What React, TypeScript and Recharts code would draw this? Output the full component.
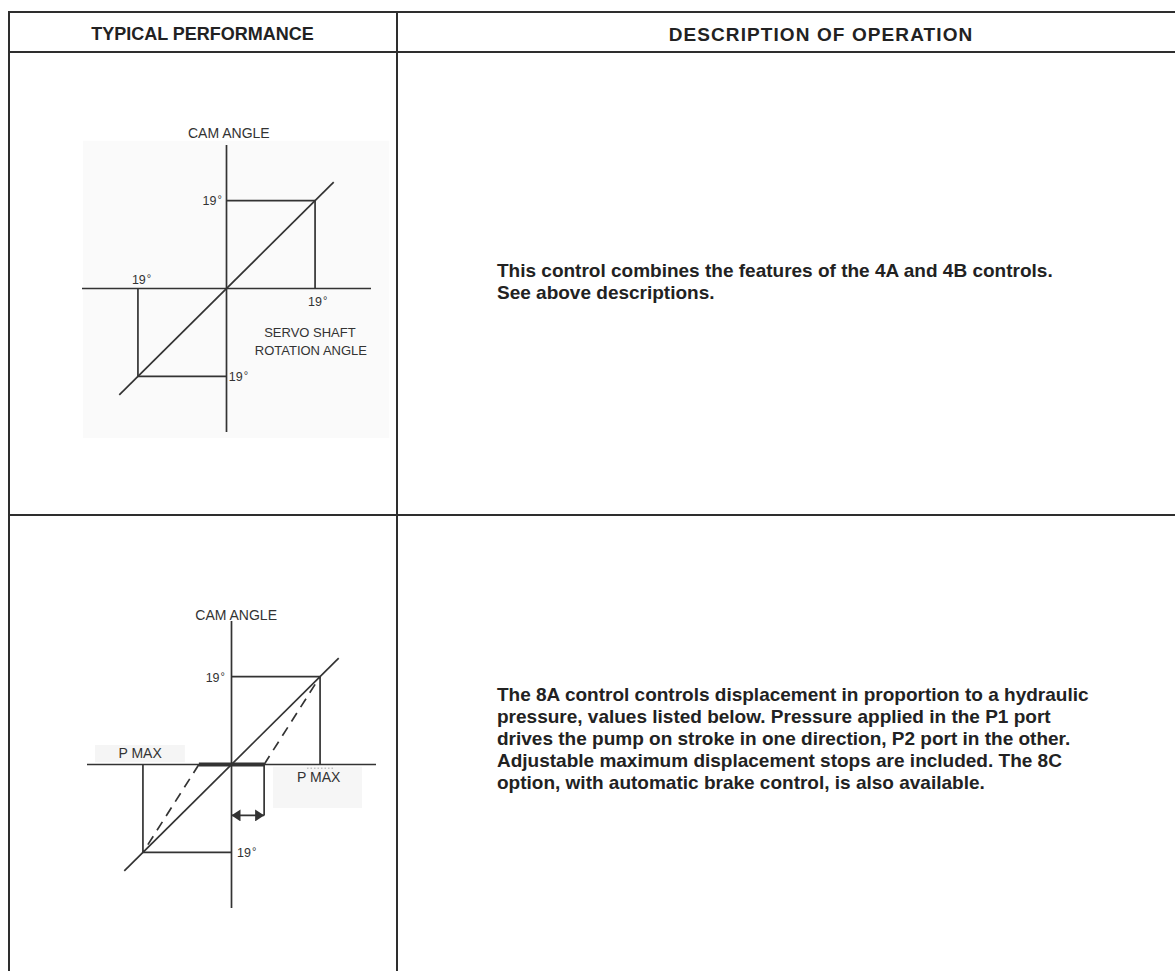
import { Line, LineChart, ReferenceArea, ReferenceDot, ReferenceLine, XAxis, YAxis } from 'recharts';

const FONT = '"Liberation Sans", Arial, Helvetica, sans-serif';
const INK = '#333';
const RULE = '#2e2e2e';

const HEADERS = ['TYPICAL PERFORMANCE', 'DESCRIPTION OF OPERATION'];

const DESCRIPTION_4AB = [
  'This control combines the features of the 4A and 4B controls.',
  'See above descriptions.',
];

const DESCRIPTION_8A = [
  'The 8A control controls displacement in proportion to a hydraulic',
  'pressure, values listed below. Pressure applied in the P1 port',
  'drives the pump on stroke in one direction, P2 port in the other.',
  'Adjustable maximum displacement stops are included. The 8C',
  'option, with automatic brake control, is also available.',
];

// Both diagrams share one scale: degrees of input vs. degrees of cam angle.
const AXIS_RANGE: [number, number] = [-31, 31];

type Pt = { x: number; y: number };

// 4A/4B combined control: servo shaft rotation drives cam angle 1:1 up to the 19° stops.
const servoResponse: Pt[] = [
  { x: -23, y: -23 },
  { x: 23, y: 23 },
];
const servoUpperStop: Pt[] = [
  { x: 0, y: 19 },
  { x: 19, y: 19 },
  { x: 19, y: 0 },
];
const servoLowerStop: Pt[] = [
  { x: -19, y: 0 },
  { x: -19, y: -19 },
  { x: 0, y: -19 },
];

// 8A hydraulic control.
const pressureResponse: Pt[] = [
  { x: -23, y: -23 },
  { x: 23, y: 23 },
];
const pressureUpperStop: Pt[] = [
  { x: 0, y: 19 },
  { x: 19, y: 19 },
  { x: 19, y: 0 },
];
const pressureLowerStop: Pt[] = [
  { x: -19, y: 0 },
  { x: -19, y: -19 },
  { x: 0, y: -19 },
];
const deadband: Pt[] = [
  { x: -7, y: 0 },
  { x: 7, y: 0 },
];
const shiftedUpper: Pt[] = [
  { x: 7, y: 0 },
  { x: 19, y: 19 },
];
const shiftedLower: Pt[] = [
  { x: -7, y: 0 },
  { x: -19, y: -19 },
];
const deadbandDrop: Pt[] = [
  { x: 7, y: 0 },
  { x: 7, y: -11 },
];
const deadbandArrow: Pt[] = [
  { x: 0, y: -11 },
  { x: 7, y: -11 },
];
const pmaxTick: Pt[] = [
  { x: 16.2, y: -0.8 },
  { x: 22.2, y: -0.8 },
];

type Anchor = 'start' | 'middle' | 'end';
type Trace = { data: Pt[]; width?: number; dash?: string; color?: string; arrows?: boolean };
type Tag = { x: number; y: number; text: string; anchor?: Anchor; size?: number; degree?: boolean };
type Shade = { x1: number; x2: number; y1: number; y2: number; fill: string };

const servoTraces: Trace[] = [
  { data: servoUpperStop },
  { data: servoLowerStop },
  { data: servoResponse },
];
const servoTags: Tag[] = [
  { x: 0.5, y: 33.6, text: 'CAM ANGLE', size: 14 },
  { x: -1.0, y: 19.1, text: '19', anchor: 'end', degree: true },
  { x: -20.3, y: 1.9, text: '19', anchor: 'start', degree: true },
  { x: 17.5, y: -2.9, text: '19', anchor: 'start', degree: true },
  { x: 17.9, y: -9.4, text: 'SERVO SHAFT' },
  { x: 18.1, y: -13.3, text: 'ROTATION ANGLE' },
  { x: 0.5, y: -19.1, text: '19', anchor: 'start', degree: true },
];
const servoShades: Shade[] = [{ x1: -30.8, x2: 34.9, y1: -32.3, y2: 31.9, fill: '#fafafa' }];

const pressureTraces: Trace[] = [
  { data: pressureUpperStop },
  { data: pressureLowerStop },
  { data: shiftedUpper, dash: '10 7' },
  { data: shiftedLower, dash: '10 7' },
  { data: deadband, width: 4 },
  { data: deadbandDrop },
  { data: deadbandArrow, arrows: true },
  { data: pressureResponse },
  { data: pmaxTick, width: 1, dash: '1.5 2', color: '#aaa' },
];
const pressureTags: Tag[] = [
  { x: 1.0, y: 32.3, text: 'CAM ANGLE', size: 14 },
  { x: -1.4, y: 18.9, text: '19', anchor: 'end', degree: true },
  { x: -19.6, y: 2.5, text: 'P MAX', size: 14 },
  { x: 18.7, y: -2.7, text: 'P MAX', size: 14 },
  { x: 1.2, y: -19.1, text: '19', anchor: 'start', degree: true },
];
const pressureShades: Shade[] = [
  { x1: -29.3, x2: -10, y1: 0.5, y2: 4.2, fill: '#f5f5f5' },
  { x1: 8.9, x2: 28, y1: -9.4, y2: -0.5, fill: '#f6f6f6' },
];

function tagShape(tag: Tag) {
  return (props: { cx?: number; cy?: number }) => {
    const cx = props.cx ?? 0;
    const cy = props.cy ?? 0;
    if (tag.degree) {
      return (
        <text x={cx} y={cy + 4.5} textAnchor={tag.anchor ?? 'middle'} fill={INK} fontSize={12.5}>
          {tag.text}
          <tspan fontSize={11} dx={1} dy={-2}>
            °
          </tspan>
        </text>
      );
    }
    const size = tag.size ?? 13;
    return (
      <text
        x={cx}
        y={cy + size * 0.36}
        textAnchor={tag.anchor ?? 'middle'}
        fill={INK}
        fontSize={size}
      >
        {tag.text}
      </text>
    );
  };
}

function Diagram({
  left,
  top,
  margin,
  traces,
  tags,
  shades,
}: {
  left: number;
  top: number;
  margin: { top: number; right: number; bottom: number; left: number };
  traces: Trace[];
  tags: Tag[];
  shades: Shade[];
}) {
  return (
    <div style={{ position: 'absolute', left, top, fontFamily: FONT }}>
      <LineChart width={340} height={340} margin={margin}>
        <XAxis type="number" dataKey="x" domain={AXIS_RANGE} hide />
        <YAxis type="number" dataKey="y" domain={AXIS_RANGE} hide />
        {shades.map((s, i) => (
          <ReferenceArea
            key={`shade-${i}`}
            x1={s.x1}
            x2={s.x2}
            y1={s.y1}
            y2={s.y2}
            fill={s.fill}
            fillOpacity={1}
            stroke="none"
            ifOverflow="visible"
          />
        ))}
        <ReferenceLine x={0} stroke={INK} strokeWidth={1.7} />
        <ReferenceLine y={0} stroke={INK} strokeWidth={1.7} />
        {traces.map((t, i) => (
          <Line
            key={`trace-${i}`}
            data={t.data}
            dataKey="y"
            type="linear"
            stroke={t.color ?? INK}
            strokeWidth={t.width ?? 1.7}
            strokeDasharray={t.dash}
            markerStart={t.arrows ? 'url(#arrowhead)' : undefined}
            markerEnd={t.arrows ? 'url(#arrowhead)' : undefined}
            dot={false}
            activeDot={false}
            isAnimationActive={false}
          />
        ))}
        {tags.map((t, i) => (
          <ReferenceDot
            key={`tag-${i}`}
            x={t.x}
            y={t.y}
            r={0}
            ifOverflow="visible"
            shape={tagShape(t)}
          />
        ))}
      </LineChart>
    </div>
  );
}

const rule = (left: number, top: number, width: number, height: number) => (
  <div style={{ position: 'absolute', left, top, width, height, background: RULE }} />
);

const bodyStyle = {
  position: 'absolute' as const,
  left: 497,
  fontSize: 19,
  fontWeight: 700,
  lineHeight: '22px',
  whiteSpace: 'nowrap' as const,
};

export default function App() {
  return (
    <div
      style={{
        position: 'fixed',
        left: 0,
        top: 0,
        width: 1175,
        height: 971,
        overflow: 'hidden',
        background: '#fff',
        fontFamily: FONT,
        color: '#222',
      }}
    >
      <svg width={0} height={0} style={{ position: 'absolute' }}>
        <defs>
          <marker
            id="arrowhead"
            markerUnits="userSpaceOnUse"
            markerWidth={9}
            markerHeight={12}
            refX={9}
            refY={6}
            orient="auto-start-reverse"
          >
            <path d="M0,0 L9,6 L0,12 z" fill={INK} />
          </marker>
        </defs>
      </svg>

      {rule(8, 11, 1167, 2)}
      {rule(8, 51, 1167, 2)}
      {rule(8, 514, 1167, 2)}
      {rule(8, 11, 2, 960)}
      {rule(396, 11, 2, 960)}

      <div
        style={{
          position: 'absolute',
          left: 8,
          top: 23,
          width: 389,
          textAlign: 'center',
          fontSize: 18,
          fontWeight: 700,
          lineHeight: '22px',
        }}
      >
        {HEADERS[0]}
      </div>
      <div
        style={{
          position: 'absolute',
          left: 397,
          top: 24,
          width: 848,
          textAlign: 'center',
          fontSize: 19,
          fontWeight: 700,
          lineHeight: '22px',
          letterSpacing: 1.1,
        }}
      >
        {HEADERS[1]}
      </div>

      <div style={{ ...bodyStyle, top: 260 }}>
        {DESCRIPTION_4AB.map((line) => (
          <div key={line}>{line}</div>
        ))}
      </div>
      <div style={{ ...bodyStyle, top: 684 }}>
        {DESCRIPTION_8A.map((line) => (
          <div key={line}>{line}</div>
        ))}
      </div>

      <Diagram
        left={60}
        top={110}
        margin={{ top: 35, right: 29, bottom: 18, left: 22 }}
        traces={servoTraces}
        tags={servoTags}
        shades={servoShades}
      />
      <Diagram
        left={60}
        top={590}
        margin={{ top: 31, right: 24, bottom: 22, left: 27 }}
        traces={pressureTraces}
        tags={pressureTags}
        shades={pressureShades}
      />
    </div>
  );
}
